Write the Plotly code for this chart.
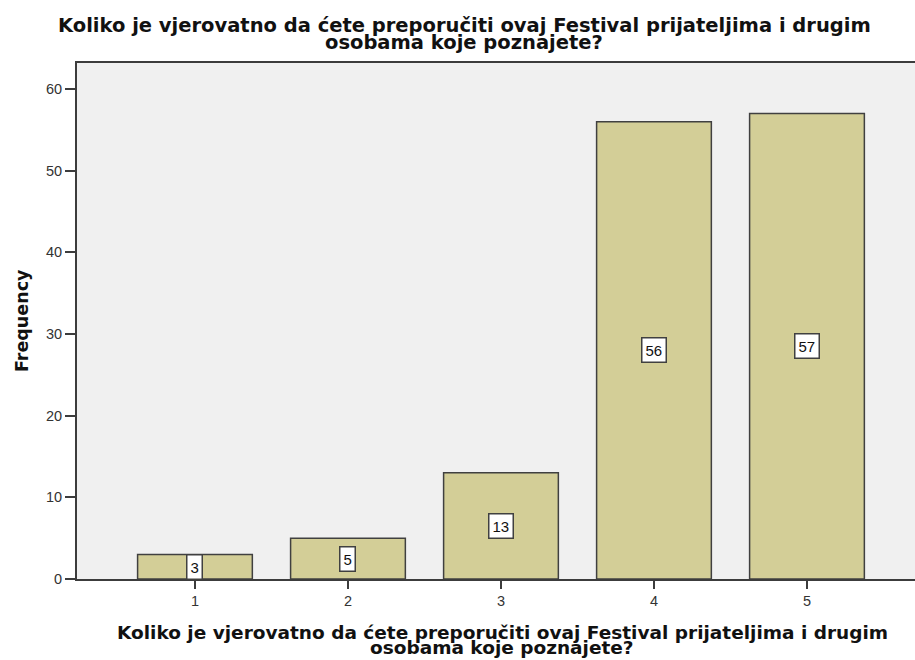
import plotly.graph_objects as go

categories = ["1", "2", "3", "4", "5"]
cat_pos = [1, 2, 3, 4, 5]
frequencies = [3, 5, 13, 56, 57]
y_ticks = [0, 10, 20, 30, 40, 50, 60]

title_l1 = "Koliko je vjerovatno da ćete preporučiti ovaj Festival prijateljima i drugim"
title_l2 = "osobama koje poznajete?"
y_title = "Frequency"

W, H = 915, 660
ML, MR, MT, MB = 77, 0, 63, 81
plot_w = W - ML - MR
plot_h = H - MT - MB
BOLD = "DejaVu Sans"
REG = "Liberation Sans, Arial"


def px_x(x):
    return (x - ML) / plot_w


def px_y(y):
    return (H - MB - y) / plot_h


fig = go.Figure()
fig.add_trace(go.Bar(
    x=cat_pos, y=frequencies, width=0.75,
    marker=dict(color="#D3CE97", line=dict(color="#404040", width=1.5)),
    hoverinfo="skip",
))

for xv, yv in zip(cat_pos, frequencies):
    fig.add_annotation(
        x=xv, y=yv / 2, text=str(yv), showarrow=False,
        font=dict(family=REG, size=15, color="#111"),
        bgcolor="white", bordercolor="#404040", borderwidth=1.5, borderpad=3,
    )

# Chart title (two lines)
for txt, yc in ((title_l1, 25.5), (title_l2, 42.5)):
    fig.add_annotation(xref="paper", yref="paper", x=px_x(464), y=px_y(yc),
                       text="<b>" + txt + "</b>", showarrow=False,
                       xanchor="center", yanchor="middle",
                       font=dict(family=BOLD, size=19.5, color="#111"))

# X axis title (two lines)
for txt, yc in ((title_l1, 632), (title_l2, 647)):
    fig.add_annotation(xref="paper", yref="paper", x=px_x(502), y=px_y(yc),
                       text="<b>" + txt + "</b>", showarrow=False,
                       xanchor="center", yanchor="middle",
                       font=dict(family=BOLD, size=18.5, color="#111"))

# Y axis title
fig.add_annotation(xref="paper", yref="paper", x=px_x(22), y=0.5,
                   text="<b>" + y_title + "</b>", showarrow=False, textangle=-90,
                   xanchor="center", yanchor="middle",
                   font=dict(family=BOLD, size=17.5, color="#111"))

fig.update_layout(
    width=W, height=H,
    margin=dict(l=ML, r=MR, t=MT, b=MB, pad=0),
    paper_bgcolor="white", plot_bgcolor="#F0F0F0",
    showlegend=False,
    font=dict(family=REG, size=14.5, color="#333"),
)
fig.update_xaxes(
    range=[0.229, 5.706], tickmode="array", tickvals=cat_pos, ticktext=categories,
    showgrid=False, zeroline=False, showline=True, linecolor="#3C3C3C", linewidth=2, mirror=True,
    ticks="outside", ticklen=8, tickwidth=1.5, tickcolor="#3C3C3C",
    tickfont=dict(family=REG, size=14.5, color="#333"),
    fixedrange=True,
)
fig.update_yaxes(
    range=[0, 63.2], tickmode="array", tickvals=y_ticks,
    showgrid=False, zeroline=False, showline=True, linecolor="#3C3C3C", linewidth=2,
    ticks="outside", ticklen=10, tickwidth=1.5, tickcolor="#3C3C3C",
    tickfont=dict(family=REG, size=14.5, color="#333"),
    fixedrange=True,
)

fig.write_html(
    "out.html",
    config={"displayModeBar": False},
    post_script="document.body.style.margin='0';document.body.style.overflow='hidden';",
)
